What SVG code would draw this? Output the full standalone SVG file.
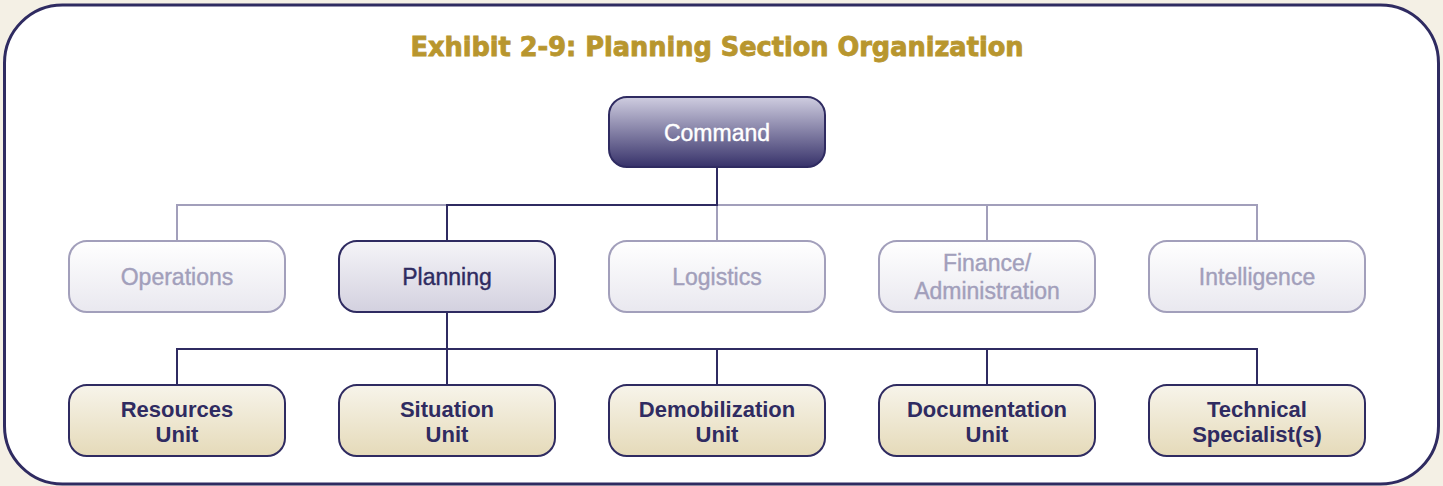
<svg xmlns="http://www.w3.org/2000/svg" width="1443" height="486" viewBox="0 0 1443 486">
<defs>
<linearGradient id="gCmd" x1="0" y1="0" x2="0" y2="1"><stop offset="0" stop-color="#cfcde0"/><stop offset="1" stop-color="#37326a"/></linearGradient>
<linearGradient id="gPlan" x1="0" y1="0" x2="0" y2="1"><stop offset="0" stop-color="#f5f4f8"/><stop offset="1" stop-color="#d3d1df"/></linearGradient>
<linearGradient id="gLight" x1="0" y1="0" x2="0" y2="1"><stop offset="0" stop-color="#ffffff"/><stop offset="1" stop-color="#e9e8ef"/></linearGradient>
<linearGradient id="gUnit" x1="0" y1="0" x2="0" y2="1"><stop offset="0" stop-color="#f7f4ea"/><stop offset="1" stop-color="#e5dab9"/></linearGradient>
</defs>
<style>
.box{stroke-width:2}
.dark{stroke:#2f2b61}
.light{stroke:#a29fbb}
.t{font-family:"Liberation Sans",Arial,sans-serif;font-size:22px;text-anchor:middle}
.r{font-size:23px;stroke-width:0.4px}
.tl{fill:#a29fbb;stroke:#a29fbb}
.td{fill:#2f2b61;stroke:#2f2b61}
.tw{fill:#ffffff;stroke:#ffffff}
.tb{font-weight:bold;fill:#2f2b61}
.cl{fill:none;stroke-width:2}
</style>
<rect x="0" y="0" width="1443" height="486" fill="#f4f0e5"/>
<rect x="4.5" y="5" width="1434" height="479" rx="58" ry="58" fill="#ffffff" stroke="#2f2b61" stroke-width="3"/>
<text x="717" y="56" font-family="'Liberation Sans Narrow','DejaVu Sans Condensed','Liberation Sans',sans-serif" font-weight="bold" font-size="27" fill="#b8962e" stroke="#b8962e" stroke-width="0.8" text-anchor="middle" textLength="613" lengthAdjust="spacingAndGlyphs">Exhibit 2-9: Planning Section Organization</text>
<g id="connectors">
<path class="cl light" d="M177 241V205H447M717 205H1257V241M717 205V241M987 205V241"/>
<path class="cl dark" d="M717 167V205H447V241"/>
<path class="cl dark" d="M447 312V349M177 385V349H1257V385M447 349V385M717 349V385M987 349V385"/>
</g>
<g id="command"><rect class="box dark" x="609" y="97" width="216" height="70" rx="18" fill="url(#gCmd)"/><text class="t r tw" x="717" y="141">Command</text></g>
<g id="operations"><rect class="box light" x="69" y="241" width="216" height="71" rx="18" fill="url(#gLight)"/><text class="t r tl" x="177" y="285">Operations</text></g>
<g id="planning"><rect class="box dark" x="339" y="241" width="216" height="71" rx="18" fill="url(#gPlan)"/><text class="t r td" x="447" y="285">Planning</text></g>
<g id="logistics"><rect class="box light" x="609" y="241" width="216" height="71" rx="18" fill="url(#gLight)"/><text class="t r tl" x="717" y="285">Logistics</text></g>
<g id="finance"><rect class="box light" x="879" y="241" width="216" height="71" rx="18" fill="url(#gLight)"/><text class="t r tl" x="987" y="271">Finance/</text><text class="t r tl" x="987" y="299">Administration</text></g>
<g id="intelligence"><rect class="box light" x="1149" y="241" width="216" height="71" rx="18" fill="url(#gLight)"/><text class="t r tl" x="1257" y="285">Intelligence</text></g>
<g id="resources"><rect class="box dark" x="69" y="385" width="216" height="71" rx="18" fill="url(#gUnit)"/><text class="t tb" x="177" y="417">Resources</text><text class="t tb" x="177" y="442">Unit</text></g>
<g id="situation"><rect class="box dark" x="339" y="385" width="216" height="71" rx="18" fill="url(#gUnit)"/><text class="t tb" x="447" y="417">Situation</text><text class="t tb" x="447" y="442">Unit</text></g>
<g id="demobilization"><rect class="box dark" x="609" y="385" width="216" height="71" rx="18" fill="url(#gUnit)"/><text class="t tb" x="717" y="417">Demobilization</text><text class="t tb" x="717" y="442">Unit</text></g>
<g id="documentation"><rect class="box dark" x="879" y="385" width="216" height="71" rx="18" fill="url(#gUnit)"/><text class="t tb" x="987" y="417">Documentation</text><text class="t tb" x="987" y="442">Unit</text></g>
<g id="technical"><rect class="box dark" x="1149" y="385" width="216" height="71" rx="18" fill="url(#gUnit)"/><text class="t tb" x="1257" y="417">Technical</text><text class="t tb" x="1257" y="442">Specialist(s)</text></g>
</svg>
